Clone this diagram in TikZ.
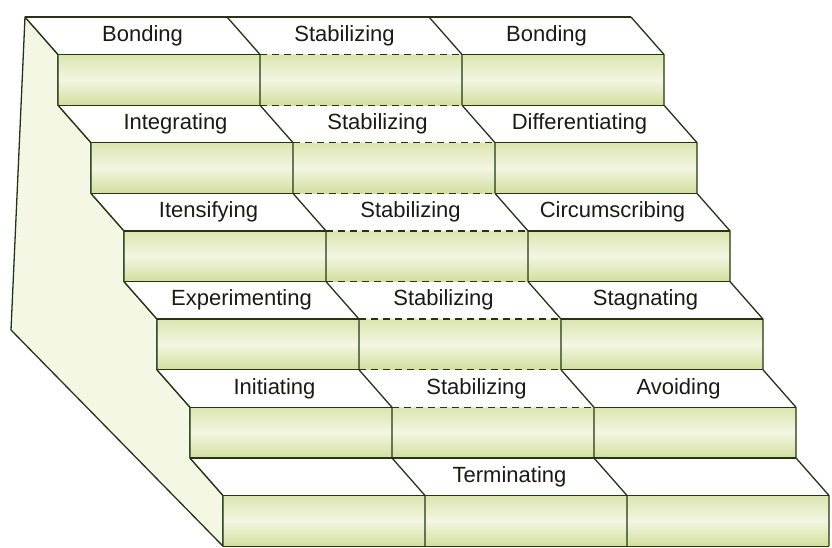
\documentclass[tikz,border=0pt]{standalone}
\usepackage{fontspec}
\setmainfont{Liberation Sans}
\usepackage{xcolor}
\usepackage{tikz}
\definecolor{edgegreen}{RGB}{38, 52, 22}
\definecolor{risergreen}{RGB}{210, 223, 156}
\definecolor{riserlight}{RGB}{243, 246, 226}
\definecolor{sidepale}{RGB}{244, 247, 228}
\definecolor{labeltext}{RGB}{25, 28, 20}

\begin{document}
\begin{tikzpicture}[
    x=1pt, y={(0pt,-1pt)},
    edge/.style={draw=edgegreen, line width=1.3pt, line join=round},
    brokenedge/.style={edge, dash pattern=on 7pt off 5pt},
    riser/.style={top color=risergreen!80, bottom color=risergreen, middle color=riserlight},
    tread/.style={fill=white},
    side/.style={fill=sidepale, draw=edgegreen, line width=1.3pt, line join=round},
    stage/.style={font=\fontsize{22}{26}\selectfont, text=labeltext, inner sep=0pt, text height=15pt, text depth=4pt}
]
    \useasboundingbox[fill=white] (0,0) rectangle (832,548);

    % Side wall of the staircase
    \filldraw[side] (25,17) -- (11,330) -- (223,546.2) -- (223,495.5) -- (190,458)
        -- (190,407.3) -- (157,369.8) -- (157,319.1) -- (124,281.6) -- (124,230.9)
        -- (91,193.4) -- (91,142.7) -- (58,105.2) -- (58,54.5) -- cycle;

    % Steps, bottom one first (middle column edges are broken)
    \foreach \i/\front/\bottom in {5/edge/edge, 4/brokenedge/edge, 3/brokenedge/brokenedge,
                                   2/brokenedge/brokenedge, 1/brokenedge/brokenedge, 0/brokenedge/brokenedge} {
        \begin{scope}[shift={(25+33*\i,17+88.2*\i)}]
            \shade[riser] (33,37.5) rectangle (639,88.2);
            \fill[tread] (0,0) -- (606,0) -- (639,37.5) -- (33,37.5) -- cycle;
            \foreach \k in {0,202,404,606}
                \draw[edge] (\k,0) -- ++(33,37.5) -- ++(0,50.7);
            \draw[edge] (33,37.5) -- (235,37.5) (437,37.5) -- (639,37.5);
            \draw[edge] (33,88.2) -- (235,88.2) (437,88.2) -- (639,88.2);
            \draw[\front] (235,37.5) -- (437,37.5);
            \draw[\bottom] (235,88.2) -- (437,88.2);
        \end{scope}
    }
    \draw[edge] (25,17) -- (631,17);

    % Coming together
    \node[stage] (bonding) at (142.5,35.75) {Bonding};
    \node[stage] (integrating) at (175.5,124) {Integrating};
    \node[stage] (intensifying) at (208.5,212.2) {Itensifying};
    \node[stage] (experimenting) at (241.5,300.4) {Experimenting};
    \node[stage] (initiating) at (274.5,388.6) {Initiating};

    % Middle column
    \node[stage] (stab1) at (344.5,35.75) {Stabilizing};
    \node[stage] (stab2) at (377.5,124) {Stabilizing};
    \node[stage] (stab3) at (410.5,212.2) {Stabilizing};
    \node[stage] (stab4) at (443.5,300.4) {Stabilizing};
    \node[stage] (stab5) at (476.5,388.6) {Stabilizing};
    \node[stage] (terminating) at (509.5,476.8) {Terminating};

    % Coming apart
    \node[stage] (bonding2) at (546.5,35.75) {Bonding};
    \node[stage] (differentiating) at (579.5,124) {Differentiating};
    \node[stage] (circumscribing) at (612.5,212.2) {Circumscribing};
    \node[stage] (stagnating) at (645.5,300.4) {Stagnating};
    \node[stage] (avoiding) at (678.5,388.6) {Avoiding};

\end{tikzpicture}
\end{document}
